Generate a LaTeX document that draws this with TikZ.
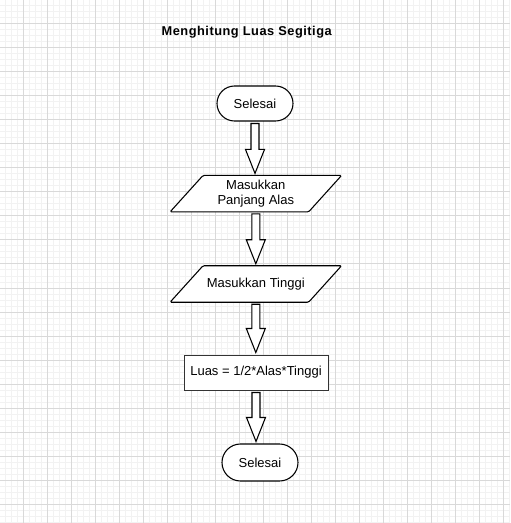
\documentclass[tikz,border=0pt]{standalone}
\usepackage{fontspec}
\setmainfont{Liberation Sans}
\usetikzlibrary{calc,shapes.misc,backgrounds}
\tikzset{
  gridminor/.style={line width=0.75pt, draw=black!5},
  gridmajor/.style={line width=0.75pt, draw=black!15},
  terminal/.style={rounded rectangle, draw=black, fill=white, line width=0.8pt,
    minimum width=57pt, minimum height=26.25pt, inner sep=0pt},
  inputtext/.style={rectangle, minimum width=103.5pt, minimum height=27pt,
    inner sep=0pt, align=center},
  inputbox/.style={draw=black, fill=white, line width=0.8pt, rounded corners=1pt},
  processbox/.style={rectangle, draw=black!80, fill=white, line width=0.75pt,
    minimum width=108pt, minimum height=26.25pt, inner sep=0pt},
  blockarrow/.style={draw=black, fill=white, line width=0.8pt, line join=miter},
  titletext/.style={font=\fontsize{9.6}{11}\selectfont\bfseries\addfontfeature{LetterSpace=4}}
}
\begin{document}
\begin{tikzpicture}[x=0.75pt, y=-0.75pt, font=\fontsize{9.75}{11.25}\selectfont]
  \useasboundingbox (0,0) rectangle (510,523);

  % Marking the title
  \node[titletext, anchor=base] (judul) at (246.7,35.7) {Menghitung Luas Segitiga};

  % Marking the flowchart steps
  \node[terminal] (mulai) at (255,103.5) {Selesai};
  \node[inputtext] (alas) at (255.8,193.7) {Masukkan\\Panjang Alas};
  \node[inputtext] (tinggi) at (255.8,284) {Masukkan Tinggi};
  \node[processbox] (luas) at (256,372.5) {Luas = 1/2*Alas*Tinggi};
  \node[terminal, minimum height=27.75pt] (selesai) at (260,462.5) {Selesai};

  % Drawing block arrows between steps
  \foreach \a/\b in {mulai/alas, alas/tinggi, tinggi/luas, luas/selesai} {
    \coordinate (top) at ($(\a.south)+(0,2)$);
    \coordinate (tip) at ($(\a.south |- \b.north)+(0,-2)$);
    \draw[blockarrow] ($(top)+(-4,0)$) -- ($(top)+(4,0)$) -- ($(tip)+(4,-24)$)
      -- ++(5.5,0) -- (tip) -- ($(tip)+(-9.5,-24)$) -- ++(5.5,0) -- cycle;
  }

  \begin{pgfonlayer}{background}
    \fill[white] (0,0) rectangle (510,523);
    % Drawing the background grid
    \foreach \x in {5.3,11.3,...,509.3} \draw[gridminor] (\x,0) -- (\x,523);
    \foreach \y in {6,12,...,522} \draw[gridminor] (0,\y) -- (510,\y);
    \foreach \x in {23.3,47.3,...,503.3} \draw[gridmajor] (\x,0) -- (\x,523);
    \foreach \y in {0,24,...,504} \draw[gridmajor] (0,\y) -- (510,\y);
    % Drawing the input parallelograms
    \foreach \n in {alas, tinggi}
      \draw[inputbox] ($(\n.north west)+(16.5,0)$) -- ($(\n.north east)+(16.5,0)$)
        -- ($(\n.south east)+(-16.5,0)$) -- ($(\n.south west)+(-16.5,0)$) -- cycle;
  \end{pgfonlayer}
\end{tikzpicture}
\end{document}
